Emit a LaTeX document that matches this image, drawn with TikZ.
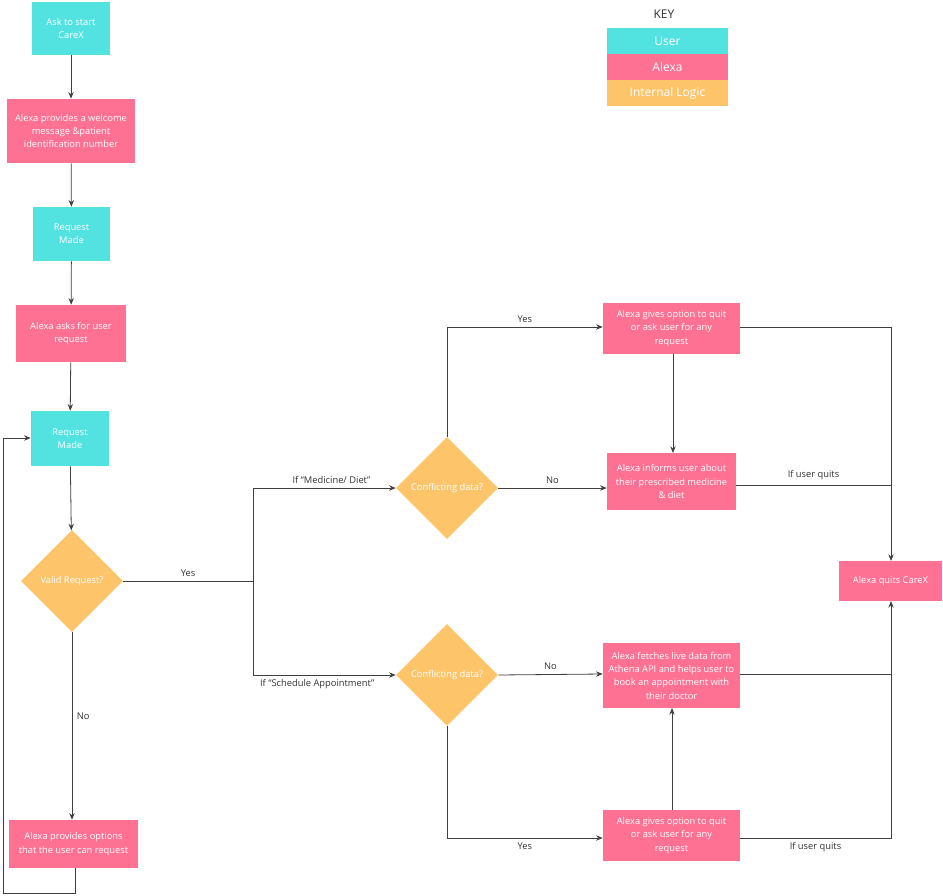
\documentclass[tikz,border=0pt]{standalone}
\usepackage{fontspec}
\setmainfont{Open Sans}
\usetikzlibrary{shapes.geometric,arrows.meta}
\definecolor{cuser}{HTML}{52E3E1}
\definecolor{calexa}{HTML}{FF7193}
\definecolor{clogic}{HTML}{FDC46A}
\begin{document}
\begin{tikzpicture}[x=0.75pt,y=-0.75pt,
 box/.style={draw=none,inner sep=1pt,align=center,text=white,font=\fontsize{7}{10}\selectfont},
 user/.style={box,fill=cuser},
 alexa/.style={box,fill=calexa},
 dia/.style={diamond,fill=clogic,text=white,font=\fontsize{7}{10}\selectfont,minimum width=76.5pt,minimum height=76.5pt,inner sep=0pt,aspect=1},
 lab/.style={font=\fontsize{7}{9}\selectfont,text=black!80},
 ln/.style={draw=black!75,line width=0.6pt},
 ar/.style={ln,-{Stealth[length=5pt,width=4pt]}}]
\useasboundingbox (0,0) rectangle (943,896);
\fill[white] (0,0) rectangle (943,896);
% key
\node[font=\fontsize{9}{11}\selectfont,text=black!80] (key) at (664,14) {KEY};
\node[user,minimum width=90.75pt,minimum height=19.5pt,font=\fontsize{9}{11}\selectfont] (ku) at (667.5,41) {User};
\node[alexa,minimum width=90.75pt,minimum height=19.5pt,font=\fontsize{9}{11}\selectfont] (ka) at (667.5,67) {Alexa};
\node[box,fill=clogic,minimum width=90.75pt,minimum height=19.5pt,font=\fontsize{9}{11}\selectfont] (kl) at (667.5,93) {Internal Logic};
% left column
\node[user,minimum width=58.5pt,minimum height=39.75pt] (a) at (71,28.5) {Ask to start\\CareX};
\node[alexa,minimum width=96pt,minimum height=48pt] (b) at (71,131) {Alexa provides a welcome\\message \&patient\\identification number};
\node[user,minimum width=57.75pt,minimum height=40.5pt] (c) at (71.5,234) {Request\\Made};
\node[alexa,minimum width=82.5pt,minimum height=42.75pt] (d) at (71,333.5) {Alexa asks for user\\request};
\node[user,minimum width=58.5pt,minimum height=41.25pt] (e) at (70,438.5) {Request\\Made};
\node[dia] (v) at (72,581) {Valid Request?};
\node[alexa,minimum width=96.75pt,minimum height=36pt] (f) at (73.5,844) {Alexa provides options\\that the user can request};
\draw[ar] (a) -- (b);
\draw[ar] (b) -- (c);
\draw[ar] (c) -- (d);
\draw[ar] (d) -- (e);
\draw[ar] (e) -- (v);
\draw[ar] (v.south) -- node[lab,right,pos=0.45]{No} (v.south|-f.north);
\draw[ar] (f.south-|75,0) -- (75,893) -- (3,893) -- (3,438) -- (e.west|-0,438);
% middle
\coordinate (j) at (253,581);
\node[dia] (d1) at (447,488) {Conflicting data?};
\node[dia] (d2) at (447,675) {Conflicting data?};
\draw[ln] (v.east) -- node[lab,above]{Yes} (j);
\draw[ar] (253,675) -- (253,488) -- node[lab,above,pos=0.55]{If “Medicine/ Diet”} (d1.west);
\draw[ar] (253,581) -- (253,675) -- node[lab,below,pos=0.45]{If “Schedule Appointment”} (d2.west);
% right
\node[alexa,minimum width=102.75pt,minimum height=38.25pt] (g) at (671.5,328.5) {Alexa gives option to quit\\or ask user for any\\request};
\node[alexa,minimum width=96.75pt,minimum height=42.75pt] (h) at (671.5,481.5) {Alexa informs user about\\their prescribed medicine\\\& diet};
\node[alexa,minimum width=102.75pt,minimum height=48.75pt] (k) at (671.5,675.5) {Alexa fetches live data from\\Athena API and helps user to\\book an appointment with\\their doctor};
\node[alexa,minimum width=102.75pt,minimum height=38.25pt] (m) at (671.5,835.5) {Alexa gives option to quit\\or ask user for any\\request};
\node[alexa,minimum width=77.25pt,minimum height=30pt] (q) at (890.5,581) {Alexa quits CareX};
\draw[ar] (d1.north) -- (447,327) -- node[lab,above]{Yes} (g.west|-0,327);
\draw[ar] (d1.east) -- node[lab,above]{No} (h.west|-0,488);
\draw[ar] (673,354) -- (673,453);
\draw[ar] (d2.east) -- node[lab,above]{No} (k.west|-0,674);
\draw[ar] (d2.south) -- (447,838) -- node[lab,below]{Yes} (m.west|-0,838);
\draw[ar] (672,810) -- (672,708);
\draw[ar] (740,327) -- (891,327) -- (891,561);
\draw[ln] (736,485) -- node[lab,above]{If user quits} (891,485);
\draw[ar] (740,838) -- node[lab,below]{If user quits} (891,838) -- (891,601);
\draw[ln] (740,674) -- (891,674);
\end{tikzpicture}
\end{document}
